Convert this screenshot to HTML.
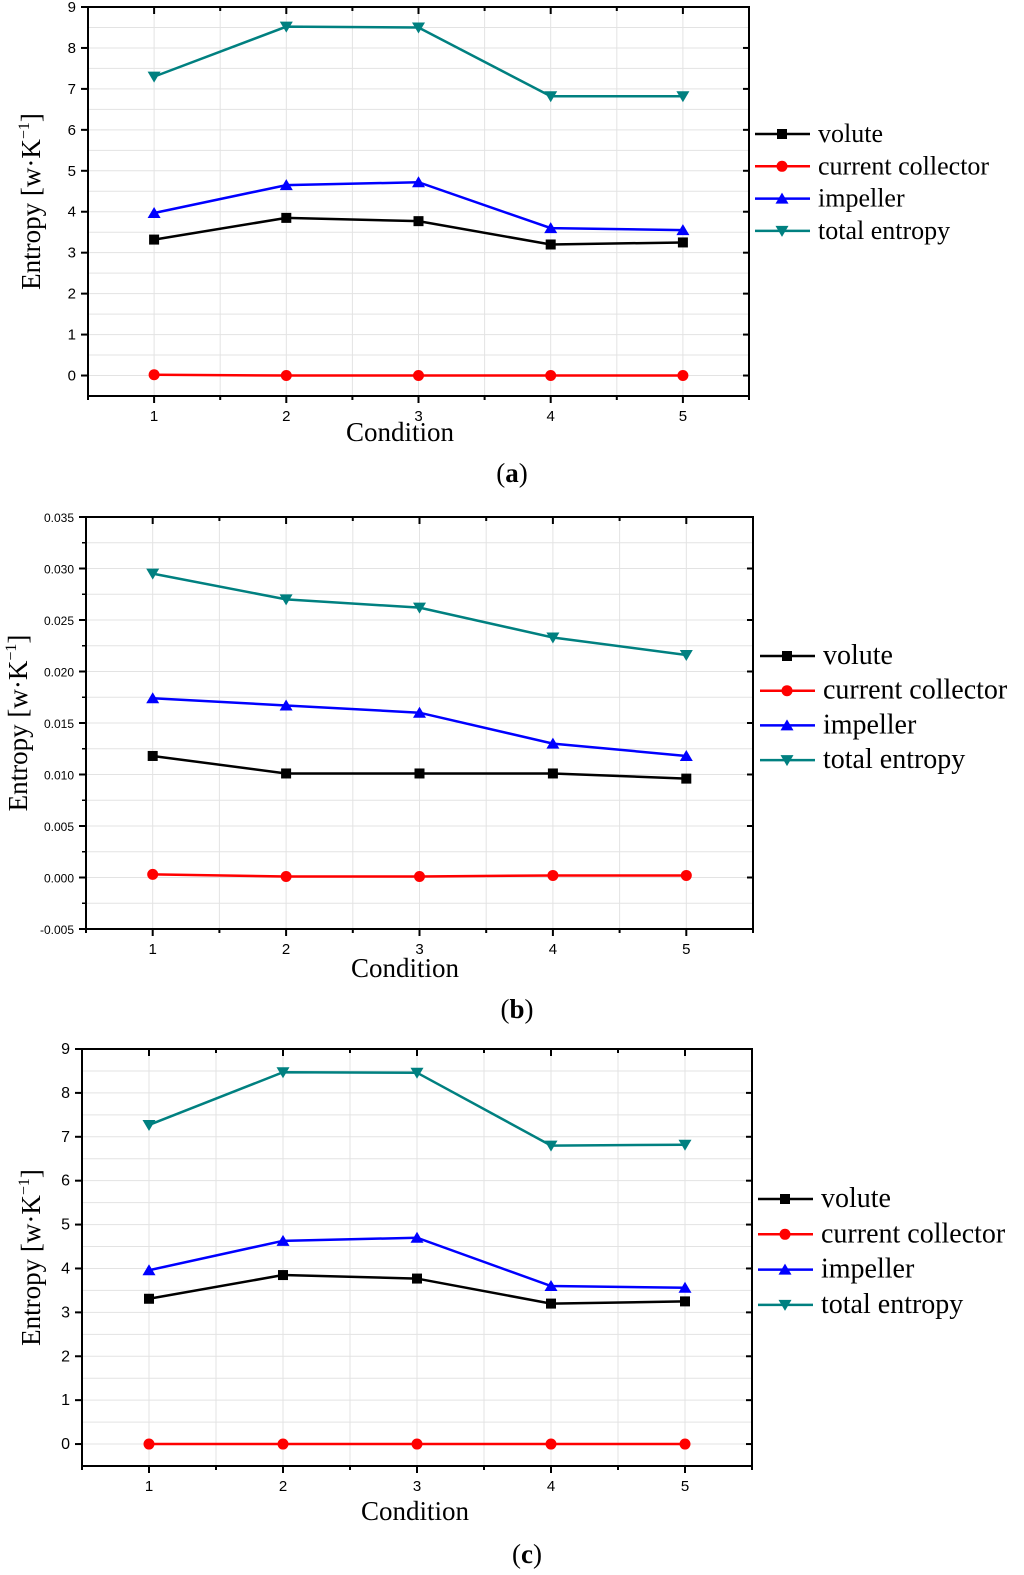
<!DOCTYPE html>
<html><head><meta charset="utf-8"><style>
body{margin:0;background:#fff}
svg{display:block}
</style></head><body>
<svg id="chart" width="1024" height="1575" viewBox="0 0 1024 1575" xmlns="http://www.w3.org/2000/svg"></svg>
<script>
const categories = [1, 2, 3, 4, 5];
const seriesNames = ["volute", "current collector", "impeller", "total entropy"];
const voluteA = [3.32, 3.85, 3.77, 3.20, 3.25];
const collectorA = [0.02, 0.0, 0.0, 0.0, 0.0];
const impellerA = [3.97, 4.65, 4.72, 3.60, 3.55];
const totalA = [7.30, 8.52, 8.50, 6.82, 6.82];
const voluteB = [0.0118, 0.0101, 0.0101, 0.0101, 0.0096];
const collectorB = [0.0003, 0.0001, 0.0001, 0.0002, 0.0002];
const impellerB = [0.0174, 0.0167, 0.0160, 0.0130, 0.0118];
const totalB = [0.0295, 0.0270, 0.0262, 0.0233, 0.0216];
const voluteC = [3.31, 3.85, 3.77, 3.20, 3.25];
const collectorC = [0.0, 0.0, 0.0, 0.0, 0.0];
const impellerC = [3.96, 4.63, 4.70, 3.60, 3.56];
const totalC = [7.27, 8.47, 8.46, 6.80, 6.82];
const yTicksA = ["0","1","2","3","4","5","6","7","8","9"];
const yTicksB = ["-0.005","0.000","0.005","0.010","0.015","0.020","0.025","0.030","0.035"];
const yTicksC = ["0","1","2","3","4","5","6","7","8","9"];

const NS = "http://www.w3.org/2000/svg";
const svg = document.getElementById("chart");
const colors = ["#000000", "#ff0000", "#0000ff", "#008080"];
function mk(tag, attrs, parent, text){
  const e = document.createElementNS(NS, tag);
  for (const k in attrs) e.setAttribute(k, attrs[k]);
  if (text !== undefined) e.textContent = text;
  parent.appendChild(e);
  return e;
}
function marker(g, kind, x, y, c){
  let m;
  if (kind === 0) m = mk("rect", {x:x-5, y:y-5, width:10, height:10, fill:c}, g);
  else if (kind === 1) m = mk("circle", {cx:x, cy:y, r:5.5, fill:c}, g);
  else if (kind === 2) m = mk("polygon", {points:`${x},${y-6} ${x-6.5},${y+5} ${x+6.5},${y+5}`, fill:c}, g);
  else m = mk("polygon", {points:`${x},${y+6} ${x-6.5},${y-5} ${x+6.5},${y-5}`, fill:c}, g);
  
  
}
function panel(cfg){
  const g = mk("g", {}, svg);
  
  
  const {L, R, T, B, ymin, ymax} = cfg;
  const xs = v => L + (v - 0.5) / 5 * (R - L);
  const ys = v => B - (v - ymin) / (ymax - ymin) * (B - T);
  for (let v = 1; v <= 5.01; v += 0.5) mk("line", {x1:xs(v), x2:xs(v), y1:T, y2:B, stroke:"#e3e3e3", "stroke-width":1}, g);
  const step = cfg.step / 2;
  for (let v = ymin + step; v < ymax - step / 2; v += step) mk("line", {x1:L, x2:R, y1:ys(v), y2:ys(v), stroke:"#e3e3e3", "stroke-width":1}, g);
  const fr = mk("rect", {x:L, y:T, width:R-L, height:B-T, fill:"none", stroke:"#000", "stroke-width":2}, g);
  
  
  cfg.yTicks.forEach((t, i) => {
    const v = ymin + i * cfg.step + (cfg.tickOffset || 0);
    const y = ys(v);
    mk("line", {x1:L-7, x2:L, y1:y, y2:y, stroke:"#000", "stroke-width":2}, g);
    mk("line", {x1:R, x2:R-6, y1:y, y2:y, stroke:"#000", "stroke-width":2}, g);
    const tx = mk("text", {x:L-12, y:y+5, "text-anchor":"end", "font-family":"Liberation Sans, sans-serif", "font-size":cfg.tickFs}, g, t);
    
    
  });
  for (let v = ymin + step; v < ymax; v += cfg.step) {
    mk("line", {x1:L-4, x2:L, y1:ys(v), y2:ys(v), stroke:"#000", "stroke-width":1.5}, g);
  }
  for (let v = 0.5; v <= 5.51; v += 0.5) {
    const major = Math.abs(v - Math.round(v)) < 0.01 && v >= 1;
    const len = major ? 7 : 4;
    mk("line", {x1:xs(v), x2:xs(v), y1:B, y2:B+len, stroke:"#000", "stroke-width":2}, g);
    mk("line", {x1:xs(v), x2:xs(v), y1:T, y2:T+len, stroke:"#000", "stroke-width":2}, g);
  }
  categories.forEach(c => {
    const tx = mk("text", {x:xs(c), y:B+25, "text-anchor":"middle", "font-family":"Liberation Sans, sans-serif", "font-size":15}, g, String(c));
    
    
  });
  cfg.series.forEach((arr, si) => {
    const sg = mk("g", {}, g);
    
    
    const pts = arr.map((v, i) => xs(categories[i]) + "," + ys(v)).join(" ");
    mk("polyline", {points:pts, fill:"none", stroke:colors[si], "stroke-width":2.5}, sg);
    arr.forEach((v, i) => marker(sg, si, xs(categories[i]), ys(v), colors[si]));
  });
  const xt = mk("text", {x:cfg.xtX, y:cfg.xtY, "text-anchor":"middle", "font-family":"Liberation Serif, serif", "font-size":27}, g, "Condition");
  
  
  const yt = mk("text", {x:0, y:0, "text-anchor":"middle", "font-family":"Liberation Serif, serif", "font-size":27, transform:`translate(${cfg.ytX},${(T+B)/2}) rotate(-90)`}, g);
  
  
  yt.appendChild(document.createTextNode("Entropy [w·K"));
  mk("tspan", {dy:-11, "font-size":16}, yt, "−1");
  mk("tspan", {dy:11}, yt, "]");
  const pl = mk("text", {x:cfg.xtX + 112, y:cfg.lblY, "text-anchor":"middle", "font-family":"Liberation Serif, serif", "font-size":27}, g);
  
  
  pl.appendChild(document.createTextNode("("));
  mk("tspan", {"font-weight":"bold"}, pl, cfg.id);
  pl.appendChild(document.createTextNode(")"));
  seriesNames.forEach((n, i) => {
    const lg = mk("g", {}, g);
    
    
    const y = cfg.legY + i * cfg.legDy;
    mk("line", {x1:cfg.legX, x2:cfg.legX+55, y1:y, y2:y, stroke:colors[i], "stroke-width":2.5}, lg);
    marker(lg, i, cfg.legX + 27, y, colors[i]);
    mk("text", {x:cfg.legX+63, y:y+8, "font-family":"Liberation Serif, serif", "font-size":cfg.legFs}, lg, n);
  });
}
panel({id:"a", L:88, R:749, T:7, B:396, ymin:-0.5, ymax:9, step:1, tickOffset:0.5, yTicks:yTicksA, tickFs:15,
  series:[voluteA, collectorA, impellerA, totalA], xtX:400, xtY:441, ytX:40, lblY:482, legX:755, legY:134, legDy:32.3, legFs:26});
panel({id:"b", L:86, R:753, T:517, B:929, ymin:-0.005, ymax:0.035, step:0.005, yTicks:yTicksB, tickFs:12,
  series:[voluteB, collectorB, impellerB, totalB], xtX:405, xtY:977, ytX:27, lblY:1018, legX:760, legY:656, legDy:34.7, legFs:28});
panel({id:"c", L:82, R:752, T:1049, B:1466, ymin:-0.5, ymax:9, step:1, tickOffset:0.5, yTicks:yTicksC, tickFs:16,
  series:[voluteC, collectorC, impellerC, totalC], xtX:415, xtY:1520, ytX:40, lblY:1563, legX:758, legY:1199, legDy:35.3, legFs:28});
</script>
</body></html>
